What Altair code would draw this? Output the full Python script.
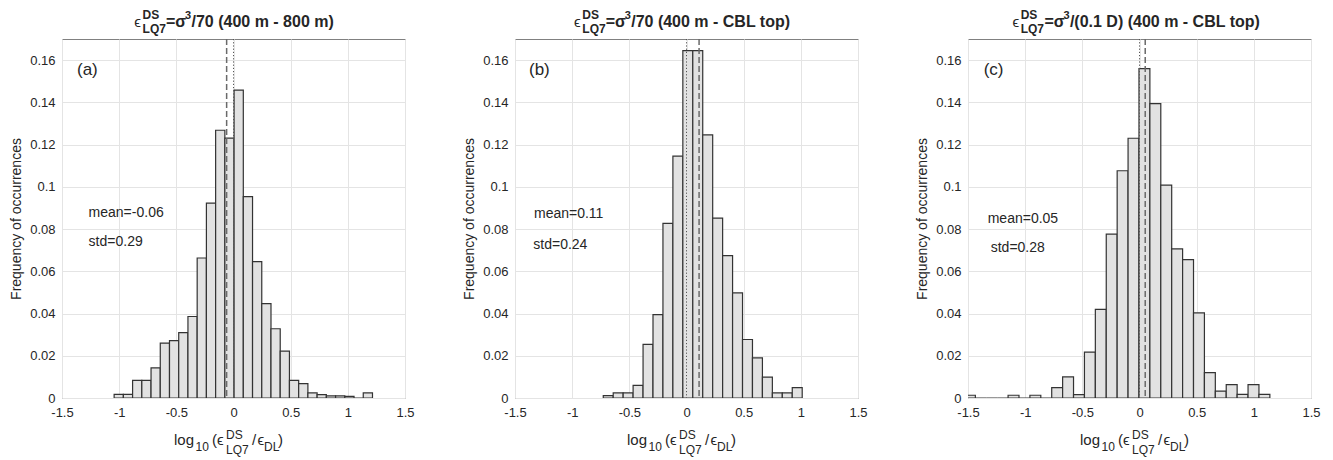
import altair as alt
import pandas as pd

FONT = "Liberation Sans"
TXT = "#262626"

X_TICKS = [-1.5, -1, -0.5, 0, 0.5, 1, 1.5]
Y_TICKS = [0, 0.02, 0.04, 0.06, 0.08, 0.1, 0.12, 0.14, 0.16]

# Panel (a) histogram: first bin edge, bin width, relative frequencies
A_BIN_START = -1.044
A_BIN_WIDTH = 0.0807
A_FREQ = [0.0017, 0.0017, 0.0083, 0.0083, 0.0143, 0.0260, 0.0272, 0.0310,
          0.0386, 0.0663, 0.0923, 0.1268, 0.1231, 0.1458, 0.0954, 0.0646,
          0.0447, 0.0328, 0.0222, 0.0083, 0.0068, 0.0024, 0.0016, 0.0010,
          0.0010, 0.0008, 0.0, 0.0024]

# Panel (b)
B_BIN_START = -0.728
B_BIN_WIDTH = 0.087
B_FREQ = [0.0011, 0.0024, 0.0024, 0.0060, 0.0254, 0.0395, 0.0827, 0.1145,
          0.1645, 0.1645, 0.1246, 0.0852, 0.0674, 0.0498, 0.0277, 0.0190,
          0.0099, 0.0024, 0.0024, 0.0049]

# Panel (c)
C_BIN_START = -1.531
C_BIN_WIDTH = 0.0954
C_FREQ = [0.0013, 0.0, 0.0, 0.0, 0.0013, 0.0, 0.0013, 0.0, 0.0049, 0.0100,
          0.0016, 0.0217, 0.0420, 0.0776, 0.1076, 0.1230, 0.1560, 0.1394,
          0.1008, 0.0706, 0.0655, 0.0403, 0.0120, 0.0033, 0.0063, 0.0017,
          0.0063, 0.0017]

LETTERS = ["(a)", "(b)", "(c)"]
MEANS = [-0.06, 0.11, 0.05]
STDS = [0.29, 0.24, 0.28]
TITLE_TAILS = ["/70 (400 m - 800 m)",
               "/70 (400 m - CBL top)",
               "/(0.1 D) (400 m - CBL top)"]

W, H = 343, 359
DUMMY = pd.DataFrame({"_": [0]})

XSCALE = alt.Scale(domain=[-1.5, 1.5], nice=False, zero=False)
YSCALE = alt.Scale(domain=[0, 0.17], nice=False, zero=False)


def x_axis():
    return alt.Axis(values=X_TICKS, labelExpr="datum.value + ''",
                    title=None, labelFlush=False)


def txt(s, px, py, size=14, weight="normal", align="left", baseline="alphabetic"):
    return alt.Chart(DUMMY).mark_text(
        text=s, font=FONT, fontSize=size, fontWeight=weight, color=TXT,
        align=align, baseline=baseline,
    ).encode(x=alt.value(px), y=alt.value(py))


def panel(i, start, width, freqs, title_x, ann):
    n = len(freqs)
    df = pd.DataFrame({
        "x0": [start + k * width for k in range(n)],
        "x1": [start + (k + 1) * width for k in range(n)],
        "freq": freqs,
    })
    bars = alt.Chart(df).mark_rect(
        fill="#e2e2e2", stroke="#333333", strokeWidth=1.2, clip=True
    ).encode(
        x=alt.X("x0:Q", scale=XSCALE, axis=x_axis()),
        x2="x1:Q",
        y=alt.Y("freq:Q", scale=YSCALE,
                axis=alt.Axis(values=Y_TICKS, labelExpr="datum.value + ''",
                              title="Frequency of occurrences", labelFlush=False)),
        y2=alt.datum(0),
    )
    zero_rule = alt.Chart(pd.DataFrame({"x0": [0.0]})).mark_rule(
        color="#555555", strokeWidth=1, strokeDash=[1.2, 2]
    ).encode(x=alt.X("x0:Q", scale=XSCALE, axis=x_axis()))
    mean_rule = alt.Chart(pd.DataFrame({"x0": [MEANS[i]]})).mark_rule(
        color="#6a6a6a", strokeWidth=1.5, strokeDash=[6, 3]
    ).encode(x=alt.X("x0:Q", scale=XSCALE, axis=x_axis()))

    ex, sx, mx = title_x
    texts = [
        # title
        txt("ϵ", ex, -12, size=15),
        txt("DS", sx, -20.5, size=12, weight="bold"),
        txt("LQ7", sx, -6, size=12, weight="bold"),
        txt("=σ", mx, -12.3, size=16, weight="bold"),
        txt("3", mx + 19, -20, size=11, weight="bold"),
        txt(TITLE_TAILS[i], mx + 25.5, -12.3, size=16, weight="bold"),
        # x-axis label
        txt("log", 112, H + 47, size=15),
        txt("10", 133.5, H + 53, size=12),
        txt("(", 150, H + 47, size=15),
        txt("ϵ", 155, H + 47, size=15),
        txt("DS", 164, H + 41, size=12),
        txt("LQ7", 164, H + 56, size=12),
        txt("/", 190, H + 47, size=15),
        txt("ϵ", 195.6, H + 47, size=15),
        txt("DL", 202, H + 53, size=12),
        txt(")", 216, H + 47, size=15),
        # annotations
        txt(LETTERS[i], ann[0][0], ann[0][1], size=17, baseline="middle"),
        txt("mean=" + str(MEANS[i]), ann[1][0], ann[1][1], size=14, baseline="middle"),
        txt("std=" + str(STDS[i]), ann[2][0], ann[2][1], size=14, baseline="middle"),
    ]
    return alt.layer(bars, zero_rule, mean_rule, *texts).properties(width=W, height=H)


pa = panel(0, A_BIN_START, A_BIN_WIDTH, A_FREQ, (72.3, 80.6, 104),
           [(15, 31), (26.6, 173.7), (26.6, 203.3)])
pb = panel(1, B_BIN_START, B_BIN_WIDTH, B_FREQ, (59, 67.3, 90.7),
           [(14, 31), (19, 175), (18.3, 206)])
pc = panel(2, C_BIN_START, C_BIN_WIDTH, C_FREQ, (44.4, 52.7, 76.4),
           [(15.7, 31), (19.7, 180), (22.7, 208.7)])

chart = alt.hconcat(pa, pb, pc, spacing=110, bounds="flush").properties(
    padding={"left": 0, "top": 0, "right": 0, "bottom": 0}
).configure_view(
    stroke="#808080", strokeWidth=1
).configure_axis(
    labelFont=FONT, labelFontSize=13, labelColor=TXT,
    titleFont=FONT, titleFontSize=14, titleFontWeight="normal", titleColor=TXT,
    gridColor="#e4e4e4", gridWidth=1, domain=False, ticks=False,
).configure_axisX(labelPadding=8).configure_axisY(labelPadding=7, titlePadding=6.5)

chart.save("out.html", embed_options={"renderer": "svg", "actions": False})
